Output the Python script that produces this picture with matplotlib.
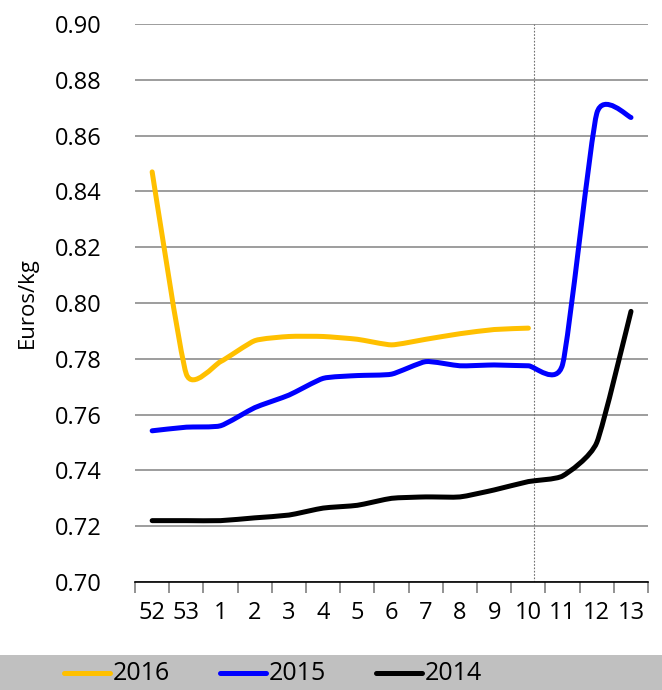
import numpy as np
import matplotlib
matplotlib.use("Agg")
import matplotlib.pyplot as plt
from matplotlib.path import Path
from matplotlib.patches import PathPatch, Rectangle
from matplotlib.lines import Line2D

plt.rcParams["font.family"] = ["Open Sans", "DejaVu Sans"]

weeks = ["52", "53", "1", "2", "3", "4", "5", "6", "7", "8", "9", "10", "11", "12", "13"]
s2016 = [0.847, 0.7745, 0.779, 0.7865, 0.788, 0.788, 0.787, 0.785, 0.787, 0.789, 0.7905, 0.791]
s2015 = [0.7542, 0.7555, 0.756, 0.7625, 0.767, 0.773, 0.774, 0.7745, 0.779, 0.7775, 0.7778, 0.7775,
         0.778, 0.868, 0.8665]
s2014 = [0.722, 0.722, 0.722, 0.723, 0.724, 0.7265, 0.7275, 0.730, 0.7305, 0.7305, 0.733, 0.736,
         0.738, 0.750, 0.797]
series = [("2016", s2016, "#FFC000"), ("2015", s2015, "#0000FF"), ("2014", s2014, "#000000")]


def smooth_path(ys, k=0.09):
    # smoothed line like a spreadsheet chart: cubic bezier through each point
    p = np.column_stack([np.arange(len(ys)), ys]).astype(float)
    verts = [p[0]]
    codes = [Path.MOVETO]
    n = len(p)
    for i in range(n - 1):
        p0 = p[max(i - 1, 0)]
        p1, p2 = p[i], p[i + 1]
        p3 = p[min(i + 2, n - 1)]
        verts += [p1 + (p2 - p0) * k, p2 - (p3 - p1) * k, p2]
        codes += [Path.CURVE4] * 3
    return Path(verts, codes)


fig = plt.figure(figsize=(6.62, 6.90), dpi=100)
ax = fig.add_axes([0.204, 0.1565, 0.775, 0.8087])

for name, ys, col in series:
    ax.add_patch(PathPatch(smooth_path(ys), fill=False, edgecolor=col, lw=3.6,
                           capstyle="round", joinstyle="round", zorder=3))

ax.axvline(11.17, color="#707070", lw=0.8, ls=(0, (1.5, 1.5)), zorder=2)

ax.set_xlim(-0.5, len(weeks) - 0.5)
ax.set_ylim(0.70, 0.90)
ax.set_yticks(np.arange(0.70, 0.901, 0.02))
ax.set_yticklabels([f"{v:.2f}" for v in np.arange(0.70, 0.901, 0.02)])
ax.set_xticks(range(len(weeks)))
ax.set_xticklabels(weeks)
ax.set_xticks(np.arange(-0.5, len(weeks), 1), minor=True)
ax.tick_params(axis="x", which="major", length=0, pad=14, labelsize=17)
ax.tick_params(axis="x", which="minor", length=8, color="#808080", width=1.2, direction="out")
ax.tick_params(axis="y", length=0, pad=24, labelsize=17)
ax.grid(axis="y", color="#8c8c8c", lw=1.2)
ax.set_axisbelow(True)
for s in ["top", "right", "left"]:
    ax.spines[s].set_visible(False)
ax.spines["bottom"].set_color("black")
ax.spines["bottom"].set_linewidth(1.2)
ax.set_ylabel("Euros/kg", fontsize=16, labelpad=12)

# grey legend band at the bottom
fig.patches.append(Rectangle((0, 0), 1, 35 / 690, transform=fig.transFigure,
                             facecolor="#c0c0c0", edgecolor="none", zorder=0))
W, H = 662, 690
ly = 673
for i, (name, _, col) in enumerate(series):
    x0 = 64 + 156 * i
    fig.add_artist(Line2D([x0 / W, (x0 + 46) / W], [1 - ly / H] * 2, color=col, lw=3.6,
                          solid_capstyle="round"))
    fig.text((x0 + 49) / W, 1 - (ly + 1) / H, name, fontsize=18, va="center", ha="left",
             family=["Liberation Sans Narrow", "Open Sans"])

fig.savefig("out.png", dpi=100)
